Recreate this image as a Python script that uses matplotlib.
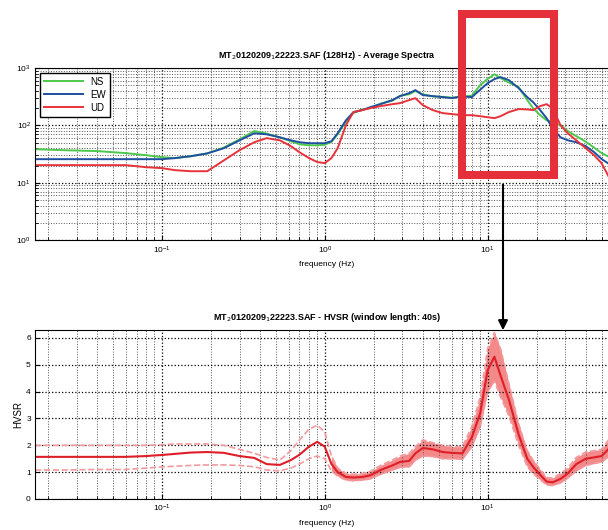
import matplotlib.pyplot as plt
from matplotlib.patches import Rectangle

plt.rcParams['font.family'] = ['Liberation Sans', 'DejaVu Sans']

# frequency grid (Hz) shared by the spectra and the HVSR curves
freq = [0.0167, 0.025, 0.04, 0.06, 0.08, 0.1, 0.12, 0.15, 0.19, 0.24,
        0.3, 0.37, 0.44, 0.53, 0.62, 0.7, 0.8, 0.9, 1.0, 1.1,
        1.2, 1.35, 1.5, 1.7, 1.9, 2.2, 2.6, 2.9, 3.3, 3.6,
        4.0, 4.6, 5.3, 6.0, 7.0, 8.0, 9.0, 10.0, 11.0, 12.0,
        13.5, 15.5, 17.5, 19.0, 21.0, 23.0, 25.0, 28.0, 31.0, 35.0,
        40.0, 45.0, 50.0, 56.0, 64.0]

# average spectra
ns = [38.5, 37.0, 35.7, 32.9, 30.3, 28.0, 26.9, 29.0, 32.5, 41.0,
      57.0, 80.0, 72.0, 62.0, 53.0, 47.0, 45.0, 45.0, 46.0, 52.0,
      70.0, 118.0, 165.0, 190.0, 200.0, 240.0, 270.0, 330.0, 350.0, 400.0,
      350.0, 320.0, 315.0, 305.0, 318.0, 330.0, 505.0, 650.0, 780.0, 670.0,
      560.0, 466.0, 277.0, 200.0, 151.0, 123.0, 116.0, 100.0, 80.0, 65.0,
      52.0, 41.0, 33.0, 28.0, 23.0]
ew = [25.8, 25.8, 25.8, 25.8, 25.8, 25.8, 26.9, 29.0, 32.5, 40.0,
      55.0, 73.0, 70.0, 62.0, 55.0, 51.0, 49.0, 49.0, 49.0, 53.0,
      73.0, 123.0, 171.0, 185.0, 208.0, 235.0, 277.0, 325.0, 366.0, 413.0,
      338.0, 325.0, 312.0, 300.0, 320.0, 312.0, 420.0, 547.0, 642.0, 697.0,
      617.0, 447.0, 312.0, 255.0, 185.0, 134.0, 90.0, 62.0, 55.0, 51.0,
      43.5, 34.3, 26.0, 21.0, 16.6]
ud = [20.3, 20.3, 20.3, 20.3, 18.7, 18.0, 16.6, 15.9, 15.9, 24.5,
      37.0, 51.0, 60.0, 55.0, 43.5, 34.0, 27.0, 23.0, 22.0, 27.0,
      40.0, 101.0, 171.0, 185.0, 200.0, 217.0, 235.0, 245.0, 277.0, 299.0,
      226.0, 185.0, 164.0, 158.0, 151.0, 151.0, 145.0, 139.0, 134.0, 145.0,
      171.0, 193.0, 190.0, 185.0, 217.0, 235.0, 200.0, 101.0, 73.0, 55.0,
      40.0, 30.3, 22.0, 12.0, 7.5]

# HVSR mean and +/- spread
hvsr = [1.57, 1.57, 1.57, 1.57, 1.6, 1.64, 1.68, 1.73, 1.75, 1.72,
        1.6, 1.53, 1.3, 1.27, 1.45, 1.65, 1.95, 2.13, 1.95, 1.3,
        1.0, 0.82, 0.8, 0.82, 0.88, 1.08, 1.25, 1.38, 1.42, 1.7,
        1.9, 1.85, 1.75, 1.72, 1.7, 2.3, 3.2, 4.8, 5.3, 4.6,
        3.7, 2.4, 1.5, 1.2, 0.9, 0.65, 0.62, 0.75, 0.95, 1.3,
        1.5, 1.55, 1.6, 1.9, 2.0]
hvsr_hi = [2.0, 2.0, 2.0, 2.0, 2.0, 2.02, 2.05, 2.05, 2.05, 2.0,
           1.85, 1.7, 1.55, 1.45, 1.8, 2.2, 2.6, 2.75, 2.5, 1.6,
           1.15, 0.95, 0.92, 0.95, 1.02, 1.25, 1.45, 1.6, 1.7, 1.95,
           2.2, 2.1, 2.0, 1.95, 1.95, 2.7, 3.8, 5.6, 6.2, 5.6,
           4.3, 2.8, 1.8, 1.45, 1.1, 0.8, 0.78, 0.95, 1.15, 1.55,
           1.75, 1.8, 1.85, 2.25, 2.3]
hvsr_lo = [1.08, 1.08, 1.1, 1.1, 1.15, 1.2, 1.22, 1.25, 1.27, 1.27,
           1.25, 1.2, 1.08, 1.05, 1.15, 1.3, 1.5, 1.6, 1.5, 1.05,
           0.85, 0.7, 0.68, 0.7, 0.75, 0.92, 1.08, 1.18, 1.2, 1.45,
           1.6, 1.58, 1.5, 1.5, 1.48, 1.95, 2.7, 4.0, 4.4, 3.8,
           3.1, 2.0, 1.2, 0.95, 0.72, 0.52, 0.5, 0.6, 0.78, 1.05,
           1.25, 1.32, 1.38, 1.6, 1.7]
# individual windows only form a dense band above about 1 Hz
band_from = 1.1

title_top = r'MT$_2$0120209$_1$22223.SAF (128Hz) - Average Spectra'
title_bot = r'MT$_2$0120209$_1$22223.SAF - HVSR (window length: 40s)'

fig = plt.figure(figsize=(6.08, 5.30), dpi=100)
ax1 = fig.add_axes([0.0576, 0.547, 0.9605, 0.3245])
ax2 = fig.add_axes([0.0576, 0.0585, 0.9605, 0.319])

ax1.plot(freq, ns, color='#4cc84c', lw=1.4, label='NS')
ax1.plot(freq, ew, color='#1f4f9f', lw=1.4, label='EW')
ax1.plot(freq, ud, color='#e8323a', lw=1.4, label='UD')
ax1.set_xscale('log')
ax1.set_yscale('log')
ax1.set_ylim(1, 1000)
ax1.legend(loc='upper left', fontsize=7, handlelength=4, borderpad=0.4,
           labelspacing=0.3, fancybox=False, edgecolor='black', framealpha=1)
ax1.set_title(title_top, fontsize=6.5, fontweight='bold', pad=7)
ax1.set_xlabel('frequency (Hz)', fontsize=6)

# individual windows spread + mean and dashed std lines
ax2.fill_between(freq, hvsr_lo, hvsr_hi, where=[f >= band_from for f in freq],
                 color='#ee3a3a', alpha=0.6, lw=0)
ax2.plot(freq, hvsr_hi, color='#f29aa0', lw=1.2, ls='--')
ax2.plot(freq, hvsr_lo, color='#f29aa0', lw=1.2, ls='--')
ax2.plot(freq, hvsr, color='#de1e28', lw=1.5)
ax2.set_xscale('log')
ax2.set_ylim(0, 6.3)
ax2.set_yticks([0, 1, 2, 3, 4, 5, 6])
ax2.set_title(title_bot, fontsize=6.5, fontweight='bold', pad=7)
ax2.set_xlabel('frequency (Hz)', fontsize=6)
ax2.set_ylabel('HVSR', fontsize=7, labelpad=2)

for ax in (ax1, ax2):
    ax.set_xlim(1 / 60, 64)
    ax.grid(True, which='major', ls=':', color='black', lw=0.9)
    ax.grid(True, which='minor', ls=':', color='#555555', lw=0.7)
    ax.tick_params(which='both', direction='in', labelsize=6, pad=3)
    ax.tick_params(which='minor', length=2)
    ax.spines['right'].set_visible(False)

# highlight box and arrow drawn in figure pixels
fig.patches.append(Rectangle((462 / 608, 1 - 175 / 530), 92 / 608, 161 / 530,
                             transform=fig.transFigure, fill=False,
                             edgecolor='#e5303c', lw=5.8, zorder=10))
fig.add_artist(plt.Line2D([503 / 608, 503 / 608], [1 - 185 / 530, 1 - 322 / 530],
                          transform=fig.transFigure, color='black', lw=1.5))
ax2.annotate('', xy=(503 / 608, 1 - 333 / 530), xytext=(503 / 608, 1 - 318 / 530),
             xycoords='figure fraction', textcoords='figure fraction',
             arrowprops=dict(arrowstyle='-|>', color='black', lw=1.5,
                             mutation_scale=14))

fig.savefig('out.png', dpi=100)
